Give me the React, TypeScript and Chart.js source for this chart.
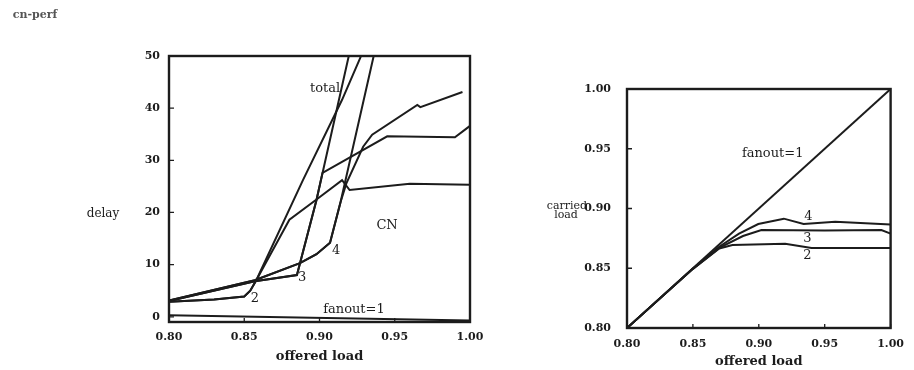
import React, { useEffect, useRef } from "react";
import { Chart, registerables } from "chart.js";

Chart.register(...registerables);

// ---------- shared ----------
const loadTicks = [0.8, 0.85, 0.9, 0.95, 1.0];

// ---------- left chart: delay vs offered load ----------
const delayTicks = [0, 10, 20, 30, 40, 50];

const f1DelayX = [0.8, 1.0];
const f1DelayY = [0.3, -0.7];

const total2X = [0.8, 0.83, 0.85, 0.854, 0.858, 0.889, 0.915, 0.927, 0.932];
const total2Y = [2.9, 3.3, 3.9, 5.0, 7.0, 26.2, 41.6, 49.6, 53.0];

const cn2X = [0.8, 0.83, 0.85, 0.854, 0.858, 0.88, 0.898, 0.915, 0.92, 0.96, 1.0];
const cn2Y = [2.9, 3.3, 3.9, 5.0, 7.0, 18.6, 22.5, 26.2, 24.3, 25.5, 25.3];

const total3X = [0.8, 0.857, 0.885, 0.898, 0.921];
const total3Y = [3.0, 6.8, 8.0, 22.4, 52.0];

const cn3X = [0.8, 0.857, 0.885, 0.898, 0.902, 0.945, 0.99, 1.0];
const cn3Y = [3.0, 6.8, 8.0, 22.4, 27.6, 34.6, 34.4, 36.6];

const total4X = [0.8, 0.857, 0.887, 0.898, 0.907, 0.914, 0.936, 0.938];
const total4Y = [3.1, 7.0, 10.3, 12.0, 14.2, 22.0, 50.0, 53.0];

const cn4X = [0.8, 0.857, 0.887, 0.898, 0.907, 0.914, 0.918, 0.929, 0.935, 0.965, 0.967, 0.995];
const cn4Y = [3.1, 7.0, 10.3, 12.0, 14.2, 22.0, 25.7, 32.6, 34.9, 40.6, 40.2, 43.1];

// ---------- right chart: carried load vs offered load ----------
const carriedTicks = [0.8, 0.85, 0.9, 0.95, 1.0];

const f1CarriedX = [0.8, 1.0];
const f1CarriedY = [0.8, 1.0];

const c2X = [0.8, 0.85, 0.87, 0.88, 0.92, 0.94, 1.0];
const c2Y = [0.8, 0.8495, 0.8665, 0.8695, 0.8705, 0.867, 0.867];

const c3X = [0.8, 0.85, 0.87, 0.888, 0.902, 0.95, 0.993, 1.0];
const c3Y = [0.8, 0.8495, 0.867, 0.877, 0.882, 0.8815, 0.882, 0.879];

const c4X = [0.8, 0.85, 0.87, 0.885, 0.8996, 0.919, 0.934, 0.958, 1.0];
const c4Y = [0.8, 0.8498, 0.868, 0.879, 0.887, 0.8915, 0.887, 0.889, 0.8866];

// ---------- helpers ----------
const INK = "#1c1c1c";
const SERIF = "'DejaVu Serif', serif";

type XY = { x: number; y: number };
const pts = (xs: number[], ys: number[]): XY[] => xs.map((x, i) => ({ x, y: ys[i] }));

type InLabel = { text: string; x: number; y: number; size?: number };
type OutLabel = { text: string; px: number; py: number; size?: number; color?: string; weight?: string };

function makeDecor(inside: InLabel[], outside: OutLabel[]) {
  return {
    id: "decor",
    afterDraw(chart: any) {
      const { ctx, chartArea } = chart;
      const { left, right, top, bottom } = chartArea;
      const xs = chart.scales.x;
      const ys = chart.scales.y;
      ctx.save();
      // inward tick marks
      ctx.strokeStyle = INK;
      ctx.lineWidth = 1.3;
      ctx.beginPath();
      for (const t of xs.ticks) {
        const px = xs.getPixelForValue(t.value);
        ctx.moveTo(px, bottom);
        ctx.lineTo(px, bottom - 4);
      }
      for (const t of ys.ticks) {
        const py = ys.getPixelForValue(t.value);
        ctx.moveTo(left, py);
        ctx.lineTo(left + 5, py);
      }
      ctx.stroke();
      // frame
      ctx.lineWidth = 2.4;
      ctx.strokeRect(left, top, right - left, bottom - top);
      // labels
      ctx.fillStyle = INK;
      ctx.textAlign = "center";
      ctx.textBaseline = "middle";
      for (const l of inside) {
        ctx.font = `${l.size ?? 13}px ${SERIF}`;
        ctx.fillText(l.text, xs.getPixelForValue(l.x), ys.getPixelForValue(l.y));
      }
      for (const l of outside) {
        ctx.fillStyle = l.color ?? INK;
        ctx.font = `${l.weight ?? "normal"} ${l.size ?? 13}px ${SERIF}`;
        ctx.fillText(l.text, l.px, l.py);
      }
      ctx.restore();
    },
  };
}

function lineDs(data: XY[]) {
  return {
    data,
    borderColor: INK,
    borderWidth: 2,
    pointRadius: 0,
    tension: 0,
    fill: false,
  };
}

function baseOptions(opts: {
  xTicks: number[];
  yTicks: number[];
  yMin: number;
  yMax: number;
  top: number;
  right: number;
  yWidth: number;
  xHeight: number;
  yPad: number;
  xPad: number;
  yFmt: (v: number) => string;
  titlePad: number;
}) {
  return {
    animation: false,
    responsive: false,
    devicePixelRatio: 1,
    layout: { padding: { top: opts.top, right: opts.right, left: 0, bottom: 0 } },
    plugins: { legend: { display: false }, tooltip: { enabled: false } },
    scales: {
      x: {
        type: "linear",
        min: 0.8,
        max: 1.0,
        grid: { display: false, drawTicks: false },
        border: { display: false },
        afterBuildTicks: (s: any) => {
          s.ticks = opts.xTicks.map((v) => ({ value: v }));
        },
        afterFit: (s: any) => {
          s.height = opts.xHeight;
        },
        ticks: {
          padding: opts.xPad,
          color: INK,
          font: { family: SERIF, size: 11, weight: "bold" },
          callback: (v: number) => v.toFixed(2),
          maxRotation: 0,
        },
        title: {
          display: true,
          text: "offered load",
          color: INK,
          font: { family: SERIF, size: 13, weight: "bold" },
          padding: { top: 0, bottom: opts.titlePad },
        },
      },
      y: {
        type: "linear",
        min: opts.yMin,
        max: opts.yMax,
        grid: { display: false, drawTicks: false },
        border: { display: false },
        afterBuildTicks: (s: any) => {
          s.ticks = opts.yTicks.map((v) => ({ value: v }));
        },
        afterFit: (s: any) => {
          s.width = opts.yWidth;
        },
        ticks: {
          padding: opts.yPad,
          color: INK,
          font: { family: SERIF, size: 11, weight: "bold" },
          callback: (v: number) => opts.yFmt(v),
        },
      },
    },
  };
}

function DelayChart() {
  const ref = useRef<HTMLCanvasElement | null>(null);
  useEffect(() => {
    if (!ref.current) return;
    const chart = new Chart(ref.current, {
      type: "line",
      data: {
        datasets: [
          lineDs(pts(f1DelayX, f1DelayY)),
          lineDs(pts(total2X, total2Y)),
          lineDs(pts(cn2X, cn2Y)),
          lineDs(pts(total3X, total3Y)),
          lineDs(pts(cn3X, cn3Y)),
          lineDs(pts(total4X, total4Y)),
          lineDs(pts(cn4X, cn4Y)),
        ],
      },
      options: baseOptions({
        xTicks: loadTicks,
        yTicks: delayTicks,
        yMin: -1,
        yMax: 50,
        top: 56,
        right: 30,
        yWidth: 169,
        xHeight: 48,
        yPad: 9,
        xPad: 9,
        yFmt: (v) => String(v),
        titlePad: 6,
      }) as any,
      plugins: [
        makeDecor(
          [
            { text: "total", x: 0.9037, y: 43.7 },
            { text: "CN", x: 0.9449, y: 17.4 },
            { text: "fanout=1", x: 0.9229, y: 1.4 },
            { text: "2", x: 0.8571, y: 3.4 },
            { text: "3", x: 0.8884, y: 7.5 },
            { text: "4", x: 0.911, y: 12.6 },
          ],
          [
            { text: "cn-perf", px: 35, py: 15, size: 11, color: "#555", weight: "bold" },
            { text: "delay", px: 103, py: 214, size: 12 },
          ]
        ),
      ],
    });
    return () => chart.destroy();
  }, []);
  return (
    <canvas
      ref={ref}
      width={500}
      height={370}
      style={{ position: "absolute", left: 0, top: 0, width: 500, height: 370 }}
    />
  );
}

function CarriedChart() {
  const ref = useRef<HTMLCanvasElement | null>(null);
  useEffect(() => {
    if (!ref.current) return;
    const chart = new Chart(ref.current, {
      type: "line",
      data: {
        datasets: [
          lineDs(pts(f1CarriedX, f1CarriedY)),
          lineDs(pts(c2X, c2Y)),
          lineDs(pts(c3X, c3Y)),
          lineDs(pts(c4X, c4Y)),
        ],
      },
      options: baseOptions({
        xTicks: loadTicks,
        yTicks: carriedTicks,
        yMin: 0.8,
        yMax: 1.0,
        top: 89,
        right: 14,
        yWidth: 127,
        xHeight: 42,
        yPad: 16,
        xPad: 10,
        yFmt: (v) => v.toFixed(2),
        titlePad: 1,
      }) as any,
      plugins: [
        makeDecor(
          [
            { text: "fanout=1", x: 0.9105, y: 0.9462 },
            { text: "4", x: 0.9376, y: 0.8933 },
            { text: "3", x: 0.9369, y: 0.8748 },
            { text: "2", x: 0.9369, y: 0.8605 },
          ],
          [
            { text: "carried", px: 67, py: 206, size: 11 },
            { text: "load", px: 66, py: 215, size: 11 },
          ]
        ),
      ],
    });
    return () => chart.destroy();
  }, []);
  return (
    <canvas
      ref={ref}
      width={414}
      height={370}
      style={{ position: "absolute", left: 500, top: 0, width: 414, height: 370 }}
    />
  );
}

export default function App() {
  return (
    <div
      style={{
        position: "absolute",
        left: 0,
        top: 0,
        width: 914,
        height: 370,
        background: "#fff",
        overflow: "hidden",
      }}
    >
      <DelayChart />
      <CarriedChart />
    </div>
  );
}
